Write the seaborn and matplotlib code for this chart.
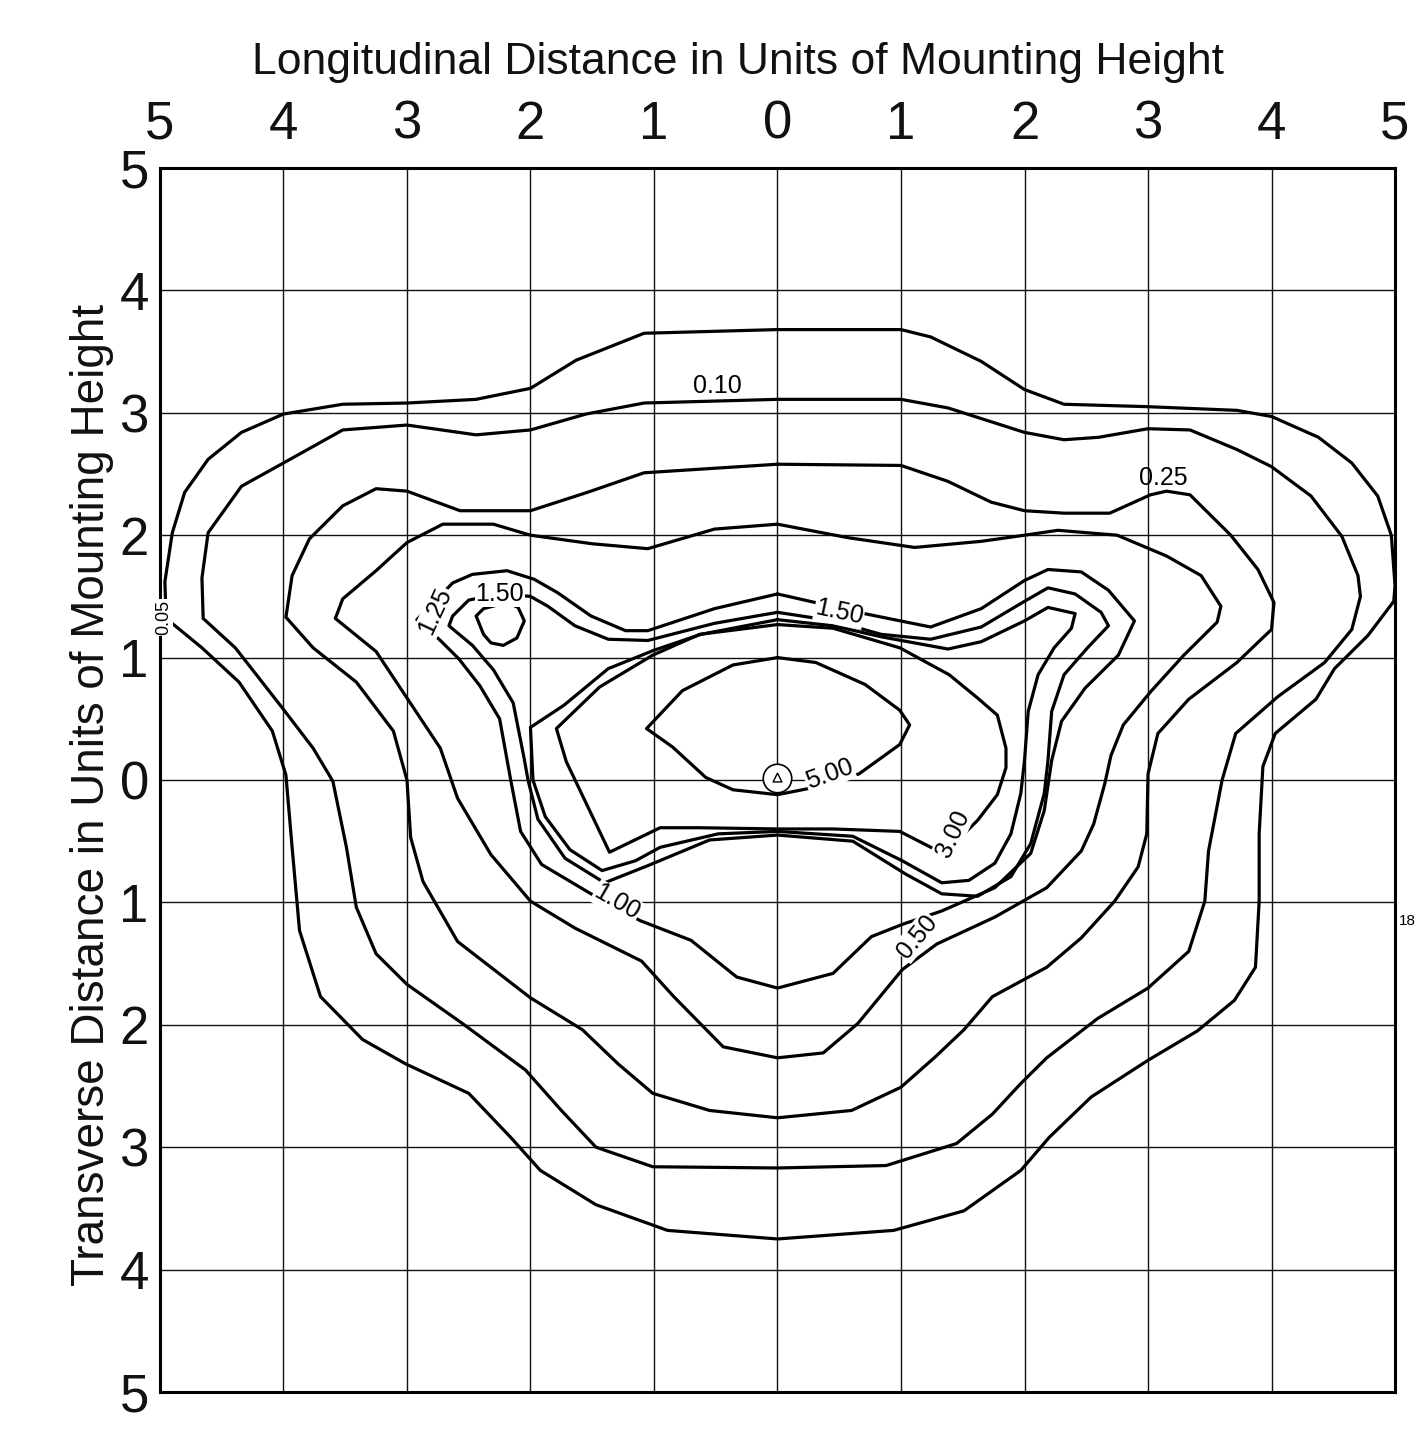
import numpy as np
import pandas as pd
import matplotlib
matplotlib.use("Agg")
import matplotlib.pyplot as plt
import seaborn as sns

# ---------------- data (units of mounting height) ----------------
ticks = [-5, -4, -3, -2, -1, 0, 1, 2, 3, 4, 5]
tick_labels = ["5", "4", "3", "2", "1", "0", "1", "2", "3", "4", "5"]

x005 = [0, 1.0, 1.24, 1.65, 2.0, 2.32, 3.0, 3.72, 4.0, 4.38, 4.65, 4.86, 4.97, 5.0, 4.99, 4.78, 4.51, 4.36, 4.03, 3.93,
        3.90, 3.90, 3.87, 3.70, 3.40, 3.0, 2.54, 2.20, 1.97, 1.51, 0.94, 0, -0.89, -1.47, -1.92, -2.16, -2.50, -3.01,
        -3.36, -3.70, -3.87, -3.93, -3.98, -4.09, -4.36, -4.66, -4.95, -4.96, -4.90, -4.80, -4.61, -4.34, -4.0, -3.52,
        -3.0, -2.44, -2.0, -1.63, -1.08, 0]
y005 = [3.68, 3.68, 3.62, 3.42, 3.19, 3.07, 3.05, 3.02, 2.97, 2.80, 2.59, 2.32, 2.0, 1.59, 1.46, 1.18, 0.91, 0.66, 0.38,
        0.11, -0.44, -0.99, -1.53, -1.80, -2.05, -2.29, -2.59, -2.92, -3.19, -3.52, -3.68, -3.75, -3.68, -3.47, -3.19,
        -2.92, -2.56, -2.32, -2.12, -1.77, -1.23, -0.55, 0.04, 0.40, 0.80, 1.08, 1.32, 1.62, 2.02, 2.35, 2.62, 2.84,
        2.99, 3.07, 3.08, 3.11, 3.20, 3.43, 3.65, 3.68]

x010 = [0, 1.0, 1.38, 2.0, 2.32, 2.6, 3.0, 3.34, 3.72, 4.0, 4.32, 4.57, 4.70, 4.72, 4.65, 4.43, 4.05, 3.71, 3.60, 3.49,
        3.46, 3.33, 3.0, 2.59, 2.18, 1.97, 1.74, 1.45, 0.88, 0, -1.01, -1.47, -1.75, -2.04, -2.55, -3.0, -3.25, -3.41,
        -3.49, -3.60, -3.76, -4.01, -4.39, -4.65, -4.66, -4.61, -4.34, -4.0, -3.52, -3.0, -2.44, -2.0, -1.55, -1.08, 0]
y010 = [3.11, 3.11, 3.04, 2.84, 2.78, 2.80, 2.87, 2.86, 2.70, 2.56, 2.32, 1.99, 1.67, 1.50, 1.23, 0.96, 0.68, 0.38, 0.0,
        -0.58, -0.99, -1.40, -1.70, -1.95, -2.27, -2.48, -2.73, -2.97, -3.15, -3.17, -3.16, -3.0, -2.70, -2.37, -1.99,
        -1.67, -1.42, -1.04, -0.55, -0.01, 0.26, 0.59, 1.08, 1.32, 1.65, 2.02, 2.40, 2.59, 2.86, 2.90, 2.82, 2.86,
        2.99, 3.08, 3.11]

x025 = [0, 1.0, 1.38, 1.73, 2.0, 2.32, 2.69, 3.02, 3.15, 3.34, 3.67, 3.89, 4.02, 4.0, 3.72, 3.33, 3.08, 3.0, 2.99, 2.92,
        2.73, 2.46, 2.18, 1.74, 1.51, 1.28, 1.0, 0.6, 0, -0.55, -1.01, -1.29, -1.58, -2.0, -2.59, -2.87, -2.97, -3.0,
        -3.11, -3.41, -3.76, -3.98, -3.93, -3.79, -3.52, -3.25, -3.0, -2.57, -2.0, -1.54, -1.08, 0]
y025 = [2.58, 2.57, 2.44, 2.27, 2.20, 2.18, 2.18, 2.33, 2.36, 2.33, 2.0, 1.72, 1.45, 1.23, 0.96, 0.66, 0.38, 0.05, -0.44,
        -0.71, -0.99, -1.29, -1.53, -1.77, -2.04, -2.26, -2.51, -2.70, -2.76, -2.70, -2.56, -2.32, -2.04, -1.78, -1.32,
        -0.83, -0.47, 0.0, 0.40, 0.80, 1.08, 1.33, 1.67, 1.97, 2.24, 2.38, 2.36, 2.20, 2.20, 2.35, 2.51, 2.58]

x050 = [0, 0.57, 1.11, 1.65, 2.0, 2.27, 2.75, 3.15, 3.43, 3.59, 3.56, 3.29, 3.02, 2.80, 2.70, 2.65, 2.56, 2.46, 2.18,
        1.76, 1.29, 1.01, 0.65, 0.37, 0, -0.44, -0.84, -1.10, -1.64, -2.0, -2.32, -2.59, -2.73, -3.0, -3.25, -3.58,
        -3.52, -3.25, -3.0, -2.71, -2.30, -2.0, -1.5, -1.05, -0.51, 0]
y050 = [2.09, 1.98, 1.90, 1.95, 2.0, 2.04, 2.0, 1.83, 1.67, 1.42, 1.29, 1.02, 0.72, 0.45, 0.20, -0.03, -0.36, -0.58,
        -0.88, -1.12, -1.34, -1.55, -1.99, -2.23, -2.27, -2.18, -1.77, -1.48, -1.21, -0.99, -0.61, -0.15, 0.26, 0.67,
        1.05, 1.32, 1.48, 1.71, 1.94, 2.09, 2.09, 2.0, 1.93, 1.89, 2.05, 2.09]

x100 = [0, 0.7, 1.24, 1.65, 2.0, 2.19, 2.46, 2.68, 2.89, 2.76, 2.49, 2.30, 2.22, 2.16, 2.05, 1.76, 1.33, 1.01, 0.76,
        0.45, 0, -0.33, -0.70, -1.11, -1.51, -1.91, -2.08, -2.16, -2.25, -2.41, -2.58, -2.74, -2.92, -2.63, -2.47,
        -2.19, -1.97, -1.78, -1.51, -1.23, -1.05, -0.51, 0]
y100 = [1.52, 1.36, 1.25, 1.40, 1.63, 1.72, 1.70, 1.55, 1.30, 1.02, 0.75, 0.48, 0.16, -0.25, -0.60, -0.88, -1.07,
        -1.18, -1.28, -1.58, -1.70, -1.61, -1.31, -1.15, -0.93, -0.69, -0.42, 0.0, 0.50, 0.77, 0.99, 1.15, 1.31, 1.61,
        1.68, 1.71, 1.64, 1.53, 1.34, 1.22, 1.22, 1.40, 1.52]

x125 = [0, 0.45, 0.84, 1.24, 1.65, 2.0, 2.19, 2.41, 2.62, 2.68, 2.51, 2.32, 2.22, 2.19, 2.16, 2.05, 1.89, 1.62, 1.33,
        1.04, 0.61, 0, -0.55, -1.05, -1.40, -1.72, -1.94, -2.02, -2.05, -2.14, -2.30, -2.47, -2.66, -2.63, -2.50,
        -2.25, -2.0, -1.86, -1.64, -1.37, -1.05, -0.51, 0]
y125 = [1.37, 1.30, 1.19, 1.15, 1.25, 1.46, 1.57, 1.52, 1.37, 1.26, 1.08, 0.86, 0.56, 0.16, -0.11, -0.52, -0.79, -0.95,
        -0.93, -0.77, -0.50, -0.45, -0.49, -0.70, -0.84, -0.64, -0.32, 0.0, 0.17, 0.63, 0.90, 1.10, 1.26, 1.34, 1.47,
        1.52, 1.50, 1.42, 1.26, 1.15, 1.14, 1.28, 1.37]

x150 = [0, 0.45, 0.84, 1.38, 1.65, 2.0, 2.19, 2.41, 2.38, 2.24, 2.11, 2.03, 2.0, 1.97, 1.89, 1.76, 1.55, 1.33, 1.01,
        0.61, 0, -0.48, -0.95, -1.15, -1.42, -1.68, -1.88, -1.98, -2.0, -1.73, -1.37, -1.0, -0.62, 0]
y150 = [1.31, 1.26, 1.17, 1.07, 1.13, 1.30, 1.41, 1.36, 1.24, 1.08, 0.86, 0.56, 0.16, -0.11, -0.44, -0.68, -0.82,
        -0.84, -0.66, -0.46, -0.42, -0.44, -0.55, -0.66, -0.74, -0.57, -0.30, 0.0, 0.43, 0.61, 0.91, 1.06, 1.19, 1.31]

x300 = [0, 0.45, 0.99, 1.39, 1.62, 1.78, 1.85, 1.85, 1.78, 1.62, 1.45, 1.28, 0.99, 0.45, 0, -0.63, -0.95, -1.36, -1.71,
        -1.79, -1.44, -1.01, -0.63, 0]
y300 = [1.27, 1.24, 1.08, 0.86, 0.67, 0.53, 0.26, 0.10, -0.12, -0.33, -0.50, -0.57, -0.42, -0.40, -0.40, -0.39, -0.39,
        -0.59, 0.15, 0.42, 0.76, 1.02, 1.19, 1.27]

x500 = [0, 0.31, 0.71, 0.99, 1.07, 0.99, 0.66, 0.35, 0, -0.36, -0.58, -0.85, -1.06, -0.77, -0.36, 0]
y500 = [1.0, 0.96, 0.78, 0.57, 0.45, 0.29, 0.05, -0.05, -0.12, -0.08, 0.02, 0.27, 0.42, 0.73, 0.94, 1.0]

x_loop = [-2.19, -2.10, -2.05, -2.11, -2.22, -2.32, -2.38, -2.44, -2.38, -2.19]
y_loop = [1.45, 1.41, 1.30, 1.16, 1.10, 1.12, 1.19, 1.34, 1.40, 1.45]

label_text = ["0.05", "1.00", "1.25", "1.50", "1.50", "3.00", "5.00", "0.50"]
label_x = [-4.97, -1.30, -2.77, -2.25, 0.50, 1.42, 0.42, 1.13]
label_y = [1.33, -1.00, 1.38, 1.52, 1.37, -0.44, 0.05, -1.28]
label_rot = [90, -30, 65, 0, -12, 65, 20, 50]

top_label_text = ["0.10", "0.25"]
top_label_x = [-0.49, 3.12]
top_label_y = [3.12, 2.37]

source_x = [0.0]
source_y = [0.02]

# ---------------- build long table ----------------
contours = {
    "0.05": (x005, y005), "0.10": (x010, y010), "0.25": (x025, y025), "0.50": (x050, y050),
    "1.00": (x100, y100), "1.25": (x125, y125), "1.50": (x150, y150), "1.50b": (x_loop, y_loop),
    "3.00": (x300, y300), "5.00": (x500, y500),
}
frames = []
for name, (xs, ys) in contours.items():
    frames.append(pd.DataFrame({"x": xs, "y": ys, "level": name, "order": np.arange(len(xs))}))
df = pd.concat(frames, ignore_index=True)

sns.set_theme(style="white")
plt.rcParams['font.family'] = ['Liberation Sans', 'DejaVu Sans']

fig = plt.figure(figsize=(14.18, 14.30), dpi=100)
ax = fig.add_axes([0.1128, 0.0266, 0.8710, 0.8559])

sns.lineplot(data=df, x="x", y="y", units="level", estimator=None, sort=False,
             color="black", linewidth=2.3, ax=ax, legend=False, zorder=3)

ax.set_xlim(-5, 5)
ax.set_ylim(-5, 5)
ax.set_xticks(ticks)
ax.set_yticks(ticks)
ax.set_xticklabels(tick_labels)
ax.set_yticklabels(tick_labels[::-1])
ax.xaxis.tick_top()
ax.xaxis.set_label_position("top")
ax.tick_params(axis="both", length=0, labelsize=38, colors="#111111")
ax.tick_params(axis="x", pad=13)
ax.tick_params(axis="y", pad=8)
ax.grid(True, color="#111111", linewidth=1.0)
ax.set_axisbelow(True)
for s in ax.spines.values():
    s.set_color("black")
    s.set_linewidth(2.2)

ax.set_xlabel("Longitudinal Distance in Units of Mounting Height", fontsize=32, labelpad=19, color="#111111")
ax.xaxis.label.set_x(0.468)
ax.set_ylabel("Transverse Distance in Units of Mounting Height", fontsize=33, labelpad=4, color="#111111")
ax.yaxis.label.set_y(0.488)

# contour labels
for t, x, y, r in zip(label_text, label_x, label_y, label_rot):
    fs = 13 if t == "0.05" else 18
    ax.text(x, y, t, rotation=r, ha="center", va="center", fontsize=fs, color="black", zorder=5,
            rotation_mode="anchor",
            bbox=dict(facecolor="white", edgecolor="none", pad=0.6))
for t, x, y in zip(top_label_text, top_label_x, top_label_y):
    ax.text(x, y, t, ha="center", va="bottom", fontsize=18, color="black", zorder=5)

# luminaire symbol
ax.scatter(source_x, source_y, s=420, facecolors="white", edgecolors="black", linewidths=1.2, zorder=6)
ax.scatter(source_x, source_y, s=40, marker="^", facecolors="none", edgecolors="black", linewidths=1.0, zorder=7)

# small fragment at right edge
ax.text(5.03, -1.15, "18", fontsize=11, ha="left", va="center", color="black", clip_on=False)

fig.savefig("out.png", dpi=100, facecolor="white")
